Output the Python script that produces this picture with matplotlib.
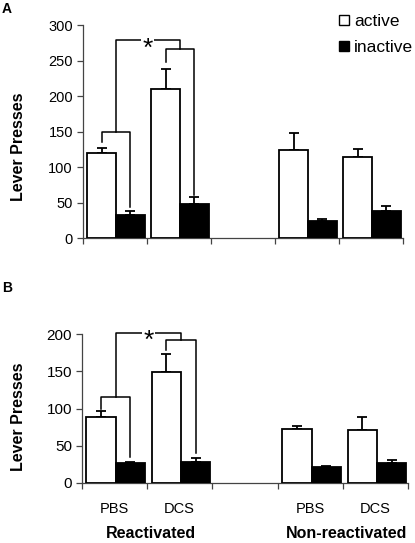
import matplotlib
matplotlib.use("Agg")
import matplotlib.pyplot as plt
import matplotlib.transforms as mtransforms
from matplotlib.patches import Patch

plt.rcParams["font.family"] = ["Liberation Sans", "DejaVu Sans"]

# category slots along x: 0,1 reactivated, 2 empty gap, 3,4 non-reactivated
slots = [0, 1, 3, 4]
conditions = ["PBS", "DCS", "PBS", "DCS"]
groups = ["Reactivated", "Non-reactivated"]
group_slots = [[0, 1], [3, 4]]

# panel A
a_active = [120, 210, 125, 114]
a_active_err = [7, 28, 24, 12]
a_inactive = [33, 48, 24, 38]
a_inactive_err = [5, 10, 3, 8]

# panel B
b_active = [89, 149, 72, 71]
b_active_err = [8, 24, 5, 17]
b_inactive = [26, 28, 21, 26]
b_inactive_err = [1.5, 5.5, 1.5, 5]

# significance brackets (reactivated PBS and DCS): level, leg bottoms, top level
a_bracket_levels = [150, 267]
a_leg_bottoms = [[136, 44.5], [249, 61]]
a_top_level = 279
b_bracket_levels = [116, 192]
b_leg_bottoms = [[100, 35], [179, 39.6]]
b_top_level = 202

BAR_W = 0.45
ACT_OFF = 0.07
INA_OFF = ACT_OFF + BAR_W


def draw_panel(ax, active, active_err, inactive, inactive_err, ymax):
    xa = [s + ACT_OFF for s in slots]
    xi = [s + INA_OFF for s in slots]
    ax.bar(xa, active, width=BAR_W, align="edge", color="white", edgecolor="black", linewidth=1.3, zorder=3)
    ax.bar(xi, inactive, width=BAR_W, align="edge", color="black", edgecolor="black", linewidth=1.3, zorder=3)
    for xs, vals, errs in [(xa, active, active_err), (xi, inactive, inactive_err)]:
        centers = [x + BAR_W / 2 for x in xs]
        ax.errorbar(centers, vals, yerr=[[0] * len(errs), errs], fmt="none", ecolor="black",
                    elinewidth=1.3, capsize=3.5, capthick=1.3, zorder=2)
    ax.set_xlim(0, 5)
    ax.set_ylim(0, ymax)
    ax.set_yticks(range(0, ymax + 1, 50))
    ax.set_xticks(range(0, 6))
    ax.set_xticklabels([])
    for side in ["top", "right"]:
        ax.spines[side].set_visible(False)
    for side in ["left", "bottom"]:
        ax.spines[side].set_color("#444444")
        ax.spines[side].set_linewidth(0.9)
    ax.tick_params(axis="both", direction="out", length=4, width=0.9, color="#444444")
    ax.tick_params(axis="y", labelsize=10.5, pad=3)


def draw_brackets(ax, levels, leg_bottoms, top_level):
    mids = []
    for slot, level, (lb_act, lb_ina) in zip([0, 1], levels, leg_bottoms):
        xl = slot + ACT_OFF + BAR_W / 2
        xr = slot + INA_OFF + BAR_W / 2
        ax.plot([xl, xl, xr, xr], [lb_act, level, level, lb_ina], color="black", lw=1.1,
                clip_on=False, zorder=4)
        mids.append(((xl + xr) / 2, level))
    (m0, l0), (m1, l1) = mids
    ax.plot([m0, m0, m1, m1], [l0, top_level, top_level, l1], color="black", lw=1.1,
            clip_on=False, zorder=4)
    ax.annotate("*", xy=((m0 + m1) / 2, top_level), xytext=(0, -11), textcoords="offset points",
                ha="center", va="baseline", fontsize=19, annotation_clip=False, zorder=5,
                bbox=dict(boxstyle="square,pad=0.05", fc="white", ec="none"))


fig = plt.figure(figsize=(4.15, 5.43), dpi=100)
W, H = 415.0, 543.0
ax_a = fig.add_axes([82.7 / W, 1 - 238.3 / H, 320 / W, 213 / H])
ax_b = fig.add_axes([81.7 / W, 1 - 482.7 / H, 326.6 / W, 148.4 / H])

draw_panel(ax_a, a_active, a_active_err, a_inactive, a_inactive_err, 300)
draw_panel(ax_b, b_active, b_active_err, b_inactive, b_inactive_err, 200)
ax_b.tick_params(axis="y", labelsize=11)
draw_brackets(ax_a, a_bracket_levels, a_leg_bottoms, a_top_level)
draw_brackets(ax_b, b_bracket_levels, b_leg_bottoms, b_top_level)

# condition and group labels under panel B
trans = mtransforms.blended_transform_factory(ax_b.transData, ax_b.transAxes)
for s, name in zip(slots, conditions):
    ax_b.text(s + 0.5, -0.179, name, transform=trans, ha="center", va="center", fontsize=10.5)
for name, gs in zip(groups, group_slots):
    xc = (gs[0] + gs[-1] + 1) / 2 + 0.06
    ax_b.text(xc, -0.341, name, transform=trans, ha="center", va="center",
              fontsize=11.5, fontweight="bold")

# y labels and panel letters
fig.text(18.5 / W, 1 - 146.7 / H, "Lever Presses", rotation=90, ha="center", va="center",
         fontsize=11.5, fontweight="bold")
fig.text(18.5 / W, 1 - 416.7 / H, "Lever Presses", rotation=90, ha="center", va="center",
         fontsize=11.5, fontweight="bold")
fig.text(7 / W, 1 - 9 / H, "A", ha="center", va="center", fontsize=10, fontweight="bold")
fig.text(7 / W, 1 - 288 / H, "B", ha="center", va="center", fontsize=10, fontweight="bold")

handles = [Patch(facecolor="white", edgecolor="black", linewidth=1.0, label="active"),
           Patch(facecolor="black", edgecolor="black", linewidth=1.0, label="inactive")]
fig.legend(handles=handles, loc="upper right", bbox_to_anchor=(413 / W, 1 - 14 / H),
           frameon=False, fontsize=12.5, handlelength=0.55, handleheight=0.55,
           handletextpad=0.3, labelspacing=0.65, borderpad=0, borderaxespad=0)

fig.savefig("out.png", dpi=100)
